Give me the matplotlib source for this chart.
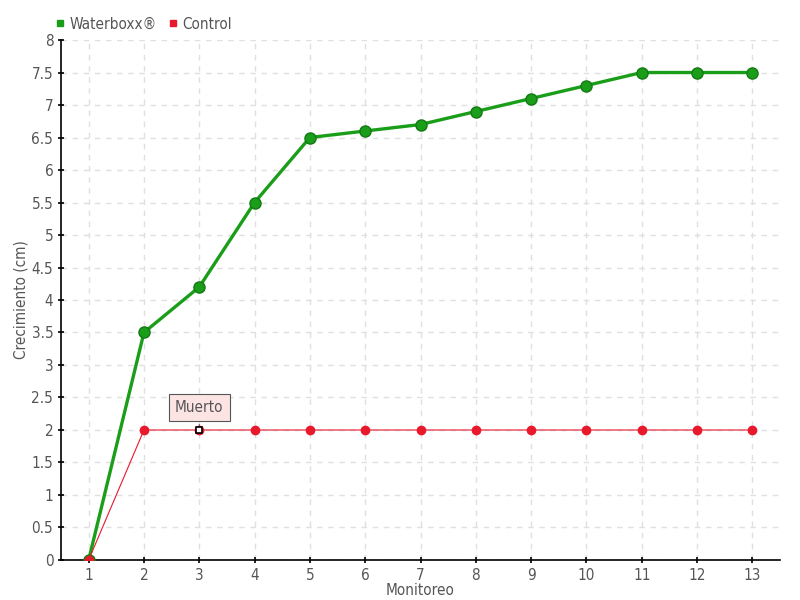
import matplotlib.pyplot as plt

plt.rcParams['font.family'] = ['DejaVu Sans']
plt.rcParams['font.stretch'] = 'condensed'

# datos
monitoreo = list(range(1, 14))
waterboxx = [0, 3.5, 4.2, 5.5, 6.5, 6.6, 6.7, 6.9, 7.1, 7.3, 7.5, 7.5, 7.5]
control = [0, 2, 2, 2, 2, 2, 2, 2, 2, 2, 2, 2, 2]
muerto_idx = 2  # monitoreo 3

verde = '#1a9e1a'
rojo = '#e8192c'
gris = '#555555'

fig = plt.figure(figsize=(8, 6), dpi=100)
ax = fig.add_axes([0.07625, 0.0667, 0.89875, 0.8666])

ax.plot(monitoreo, waterboxx, color=verde, lw=2.4, marker='o', ms=8,
        mfc=verde, mec='#137a13', mew=1, zorder=3, label='Waterboxx®')
ax.plot(monitoreo, control, color=rojo, lw=0.8, marker='o', ms=6,
        mfc=rojo, mec=rojo, zorder=4, label='Control')
ax.plot(monitoreo[muerto_idx], control[muerto_idx], marker='s', ms=5,
        mfc='white', mec='black', mew=1.2, zorder=5)

ax.annotate('Muerto', xy=(monitoreo[muerto_idx], control[muerto_idx]),
            xytext=(0, 16), textcoords='offset points', ha='center',
            va='center', fontsize=11, color=gris,
            bbox=dict(boxstyle='square,pad=0.4', fc='#fde4e4', ec='#555555', lw=0.8),
            arrowprops=dict(arrowstyle='-', color='#555555', lw=0.8))

ax.set_xlim(0.5, 13.5)
ax.set_ylim(0, 8)
ax.set_xticks(monitoreo)
ax.set_yticks([i * 0.5 for i in range(17)])
ax.set_yticklabels(['0', '0.5', '1', '1.5', '2', '2.5', '3', '3.5', '4', '4.5',
                    '5', '5.5', '6', '6.5', '7', '7.5', '8'])
ax.tick_params(labelsize=11, labelcolor=gris, length=4, width=1.2, direction='inout')
ax.grid(True, ls=(0, (4, 4)), color='#e0e0e0', lw=1)
ax.set_axisbelow(True)
for s in ['top', 'right']:
    ax.spines[s].set_visible(False)
ax.spines['left'].set_linewidth(1.2)
ax.spines['bottom'].set_linewidth(1.2)

ax.set_xlabel('Monitoreo', fontsize=11, color=gris, labelpad=0)
ax.set_ylabel('Crecimiento (cm)', fontsize=11, color=gris, labelpad=2)

handles = [plt.Line2D([], [], ls='', marker='s', ms=5, color=verde),
           plt.Line2D([], [], ls='', marker='s', ms=5, color=rojo)]
fig.legend(handles, ['Waterboxx®', 'Control'], loc='upper left',
           bbox_to_anchor=(0.052, 0.995), ncol=2, frameon=False, fontsize=11,
           labelcolor=gris, handlelength=0.6, handletextpad=0.3, columnspacing=0.8)

fig.savefig('out.png', dpi=100)
